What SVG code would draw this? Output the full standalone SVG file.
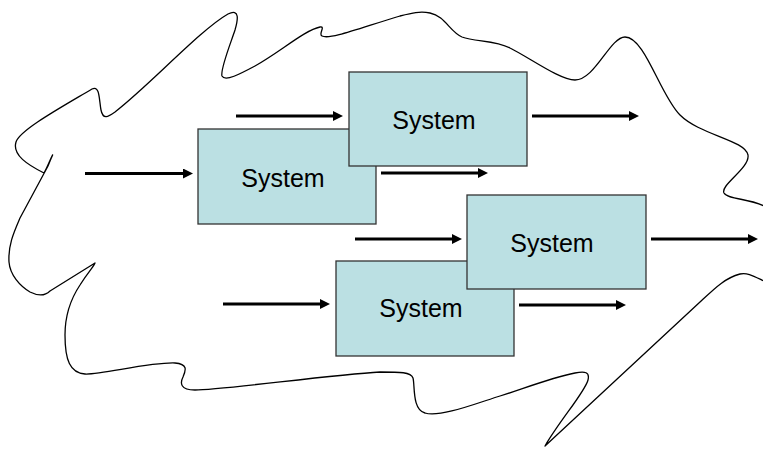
<svg xmlns="http://www.w3.org/2000/svg" width="763" height="449" viewBox="0 0 763 449">
<style>
.box{fill:#BBE0E3;stroke:#333;stroke-width:1.3}
.lbl{font-family:"Liberation Sans",Arial,sans-serif;font-size:25px;fill:#000;text-anchor:middle}
.arr{stroke:#000;stroke-width:3;fill:none;marker-end:url(#ah)}
.env{fill:none;stroke:#000;stroke-width:1.3;stroke-linejoin:round}
</style>
<defs>
<marker id="ah" markerUnits="userSpaceOnUse" markerWidth="11" markerHeight="11" refX="0" refY="5" orient="auto">
<path d="M0,0 L10,5 L0,10 Z" fill="#000"/>
</marker>
</defs>
<rect width="763" height="449" fill="#fff"/>
<g id="environment">
<path class="env" d="M44,173 C28,165 12,155 16,142 C20,130 60,108 92,89 C100,85 99,100 101,110 C103,120 108,117 115,112 C150,85 200,30 228,14 C240,8 238,20 235,30 C230,45 220,70 222,76 C225,82 240,74 255,66 C280,52 305,30 320,27 C326,26 318,34 322,36 C330,40 360,28 400,16 C412,13 420,11 430,13 C445,16 450,32 462,37 C475,42 495,40 510,48 C530,58 560,80 575,80 C595,80 610,37 625,37 C645,37 660,95 680,115 C700,135 745,140 748,155 C750,168 720,185 724,193 C728,200 752,198 768,208 L780,210 L780,280 L768,283 C755,277 748,272 740,274 C725,278 715,288 700,302 L545,446 C560,420 585,392 588,380 C590,372 585,371 575,373 C550,378 520,390 500,396 C480,402 440,418 425,413 C412,410 415,385 413,378 C411,372 400,372 380,372 C330,375 220,390 195,390 C180,390 180,383 183,377 C186,370 188,364 175,363 C150,362 100,375 85,374 C70,373 65,360 65,335 C65,315 70,300 80,285 C88,272 95,265 95,263 L50,291 C45,296 38,296 30,292 C20,286 10,275 9,262 C8,245 14,232 20,218 L48,166 C51,159 54,152 52,156 C50,160 47,168 44,173 Z"/>
</g>
<g id="system1"><rect class="box" x="198" y="129" width="178" height="95"/><text class="lbl" x="283" y="187">System</text></g>
<g id="system2"><rect class="box" x="349" y="72" width="178" height="94"/><text class="lbl" x="434" y="129">System</text></g>
<g id="system4"><rect class="box" x="336" y="261" width="178" height="95"/><text class="lbl" x="421" y="317">System</text></g>
<g id="system3"><rect class="box" x="467" y="195" width="179" height="94"/><text class="lbl" x="552" y="252">System</text></g>
<g id="connectors">
<line class="arr" x1="85" y1="173.5" x2="183" y2="173.5"/>
<line class="arr" x1="236" y1="116" x2="333" y2="116"/>
<line class="arr" x1="381" y1="173" x2="478" y2="173"/>
<line class="arr" x1="532" y1="116" x2="629" y2="116"/>
<line class="arr" x1="355" y1="239" x2="452" y2="239"/>
<line class="arr" x1="651" y1="239" x2="748" y2="239"/>
<line class="arr" x1="223" y1="304" x2="320" y2="304"/>
<line class="arr" x1="519" y1="305" x2="616" y2="305"/>
</g>
</svg>
